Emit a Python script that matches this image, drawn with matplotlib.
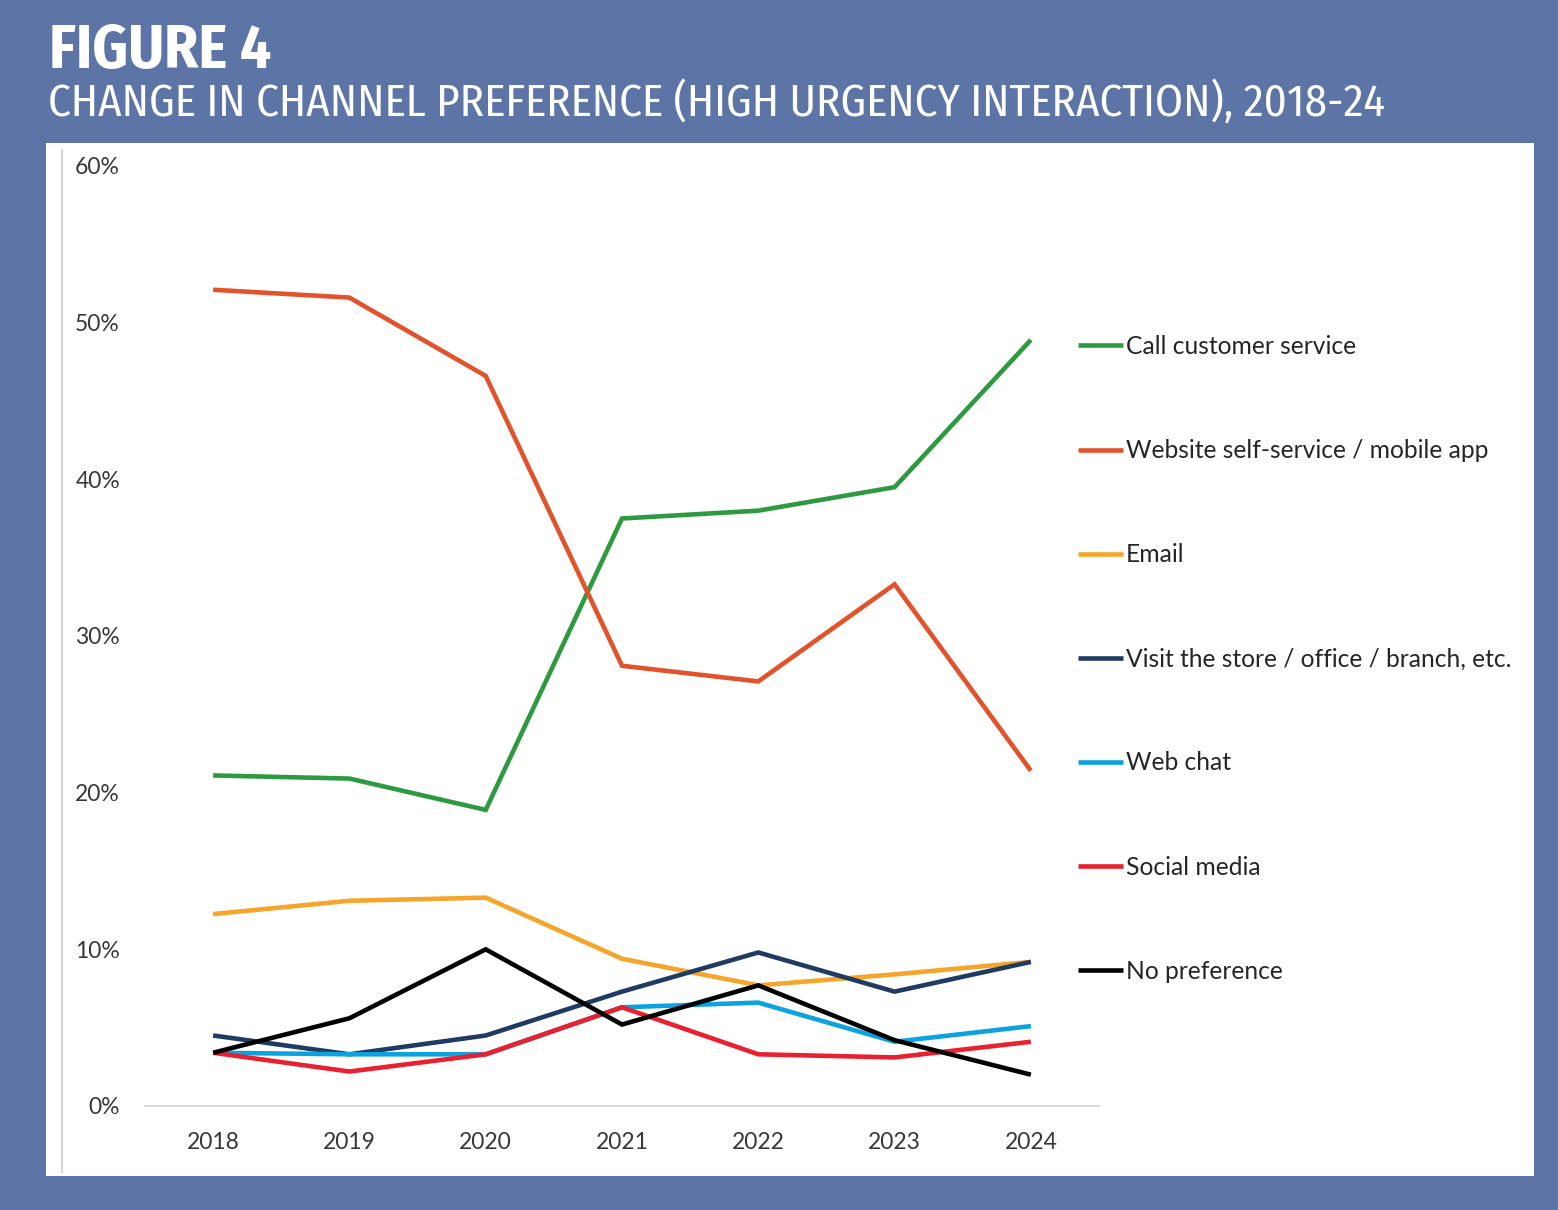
import matplotlib
matplotlib.use("Agg")
import matplotlib.pyplot as plt
from matplotlib import font_manager as fm
from matplotlib.font_manager import FontProperties
from matplotlib.patches import Rectangle
from matplotlib.lines import Line2D
from matplotlib.ticker import FuncFormatter

years = ["2018", "2019", "2020", "2021", "2022", "2023", "2024"]
call_customer_service = [21.1, 20.9, 18.9, 37.5, 38.0, 39.5, 48.9]
website_self_service = [52.1, 51.6, 46.6, 28.1, 27.1, 33.3, 21.4]
email = [12.25, 13.1, 13.3, 9.4, 7.7, 8.4, 9.2]
visit_store = [4.5, 3.3, 4.5, 7.3, 9.8, 7.3, 9.2]
web_chat = [3.4, 3.3, 3.3, 6.3, 6.6, 4.1, 5.1]
social_media = [3.4, 2.2, 3.3, 6.3, 3.3, 3.1, 4.1]
no_preference = [3.4, 5.6, 10.0, 5.2, 7.7, 4.2, 2.0]

series = [
    ("Call customer service", call_customer_service, "#2E9A40"),
    ("Website self-service / mobile app", website_self_service, "#E2532B"),
    ("Email", email, "#F4A52A"),
    ("Visit the store / office / branch, etc.", visit_store, "#1F3A63"),
    ("Web chat", web_chat, "#0BA3DF"),
    ("Social media", social_media, "#E8202F"),
    ("No preference", no_preference, "#000000"),
]
yticks = [0, 10, 20, 30, 40, 50, 60]
title_text = "FIGURE 4"
subtitle_text = "CHANGE IN CHANNEL PREFERENCE (HIGH URGENCY INTERACTION), 2018-24"

W, H = 1558, 1210
fig = plt.figure(figsize=(W / 100, H / 100), dpi=100)
fig.patch.set_facecolor("#5D74A6")
renderer = fig.canvas.get_renderer()


def weight_num(w):
    if isinstance(w, (int, float)):
        return w
    return fm.weight_dict.get(str(w).lower(), 400)


def is_cond(f):
    nm = f.name.lower()
    st = f.stretch if isinstance(f.stretch, str) else ""
    ok = ("condensed" in nm or "narrow" in nm or "condensed" in st)
    fn = f.fname.lower()
    return ok and "mono" not in nm and "serif" not in nm and f.style == "normal" \
        and "italic" not in fn


cands = [f for f in fm.fontManager.ttflist if is_cond(f)]
families = {}
for f in cands:
    families.setdefault(f.name, []).append(f)
fam = None
for name in families:
    if "fira" in name.lower():
        fam = name
        break
if fam is None and families:
    fam = max(families, key=lambda n: len(families[n]))


def face(weight):
    faces = families.get(fam, [])
    if not faces:
        return None
    # prefer matching by file name, then by weight metadata
    keys = {400: ["regular", "book"], 700: ["-bold.", "_bold.", "bold."]}[weight]
    for k in keys:
        for f in faces:
            base = f.fname.lower().split("/")[-1]
            if k in base and "semi" not in base and "extra" not in base and "light" not in base:
                return f
    return min(faces, key=lambda f: abs(weight_num(f.weight) - weight))


def fitted_text(xpx, ypx, text, f, target_w, fallback_weight):
    if f is not None:
        fp = FontProperties(fname=f.fname, size=30)
    else:
        fp = FontProperties(family=["Lato", "DejaVu Sans"], weight=fallback_weight, size=30)
    t = fig.text(xpx / W, 1 - ypx / H, text, color="white", va="baseline", ha="left",
                 fontproperties=fp)
    w = t.get_window_extent(renderer).width
    t.set_fontsize(30 * target_w / w)
    return t


fig.add_artist(Rectangle((46 / W, 1 - 1176 / H), (1534 - 46) / W, (1176 - 143) / H,
                         transform=fig.transFigure, facecolor="white", edgecolor="none", zorder=0))
fig.add_artist(Line2D([62 / W, 62 / W], [1 - 1172 / H, 1 - 150 / H], transform=fig.transFigure,
                      color="#D5D5D5", linewidth=1.5, zorder=1))

fitted_text(49, 68, title_text, face(700), 222, "bold")
fitted_text(48, 116, subtitle_text, face(400), 1335, "normal")

ax = fig.add_axes([145 / W, 1 - 1106 / H, (1099 - 145) / W, (1106 - 166) / H])
ax.set_facecolor("none")
x = list(range(len(years)))
for name, vals, col in series:
    ax.plot(x, vals, color=col, linewidth=3.3, label=name, solid_capstyle="butt",
            solid_joinstyle="miter")

ax.set_xlim(-0.5, len(years) - 0.5)
ax.set_ylim(0, 60)
ax.set_yticks(yticks)
ax.yaxis.set_major_formatter(FuncFormatter(lambda v, p: f"{int(v)}%"))
ax.set_xticks(x)
ax.set_xticklabels(years)
for s in ["top", "right", "left"]:
    ax.spines[s].set_visible(False)
ax.spines["bottom"].set_color("#D9D9D9")
ax.spines["bottom"].set_linewidth(1.5)
ax.tick_params(axis="both", length=0, labelsize=16.5, labelcolor="#383838")
ax.tick_params(axis="y", pad=18)
ax.tick_params(axis="x", pad=19)
for lab in ax.get_xticklabels() + ax.get_yticklabels():
    lab.set_family(["Lato", "DejaVu Sans"])

leg = ax.legend(loc="upper left", bbox_to_anchor=(1078 / W, 1 - 335 / H),
                bbox_transform=fig.transFigure, frameon=False, borderpad=0, borderaxespad=0,
                handlelength=1.83, handletextpad=0.12, labelspacing=3.3,
                prop={"family": ["Lato", "DejaVu Sans"], "size": 17.7})
for t in leg.get_texts():
    t.set_color("#262626")

fig.savefig("out.png", dpi=100, facecolor=fig.get_facecolor())
